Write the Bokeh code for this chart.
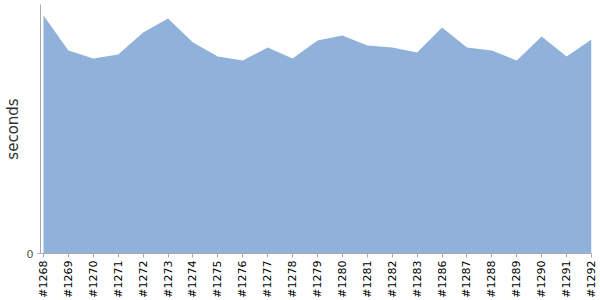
import math
from bokeh.plotting import figure
from bokeh.models import Range1d, FixedTicker, ColumnDataSource
from bokeh.embed import file_html
from bokeh.resources import INLINE

builds = ["#1268", "#1269", "#1270", "#1271", "#1272", "#1273", "#1274", "#1275",
          "#1276", "#1277", "#1278", "#1279", "#1280", "#1281", "#1282", "#1283",
          "#1286", "#1287", "#1288", "#1289", "#1290", "#1291", "#1292"]
seconds = [238, 203, 195, 199, 221, 235, 211, 197, 193, 206, 195, 213, 218, 208,
           206, 201, 226, 206, 203, 193, 217, 197, 214]

idx = list(range(len(builds)))
src = ColumnDataSource(dict(x=idx, y=seconds, z=[0] * len(idx)))

p = figure(width=600, height=300, output_backend="svg", toolbar_location=None,
           x_range=Range1d(-0.12, len(builds) - 1), y_range=Range1d(0, 249))
p.min_border_left = 40
p.min_border_right = 9
p.min_border_top = 4
p.min_border_bottom = 47
p.outline_line_color = None
p.xgrid.visible = False
p.ygrid.visible = False

p.varea(x="x", y1="z", y2="y", source=src, fill_color="#8fb1da", fill_alpha=1.0)

xa = p.xaxis[0]
xa.ticker = FixedTicker(ticks=idx)
xa.major_label_overrides = {i: b for i, b in zip(idx, builds)}
xa.major_label_orientation = math.pi / 2
xa.major_label_text_font = "DejaVu Sans"
xa.major_label_text_font_size = "11px"
xa.major_label_text_color = "#000000"
xa.axis_line_color = "#aaaaaa"
xa.major_tick_line_color = "#aaaaaa"
xa.major_tick_in = 0
xa.major_tick_out = 4
xa.minor_tick_line_color = None
xa.major_label_standoff = 3

ya = p.yaxis[0]
ya.ticker = FixedTicker(ticks=[0])
ya.axis_label = "seconds"
ya.axis_label_text_font = "DejaVu Sans"
ya.axis_label_text_font_size = "15px"
ya.axis_label_text_font_style = "normal"
ya.axis_label_text_color = "#333333"
ya.axis_label_standoff = 2
ya.major_label_text_font = "DejaVu Sans"
ya.major_label_text_font_size = "11px"
ya.major_label_text_color = "#555555"
ya.major_label_standoff = 4
ya.axis_line_color = "#aaaaaa"
ya.major_tick_line_color = "#aaaaaa"
ya.major_tick_in = 0
ya.major_tick_out = 3
ya.minor_tick_line_color = None

open("out.html", "w").write(file_html(p, INLINE))
